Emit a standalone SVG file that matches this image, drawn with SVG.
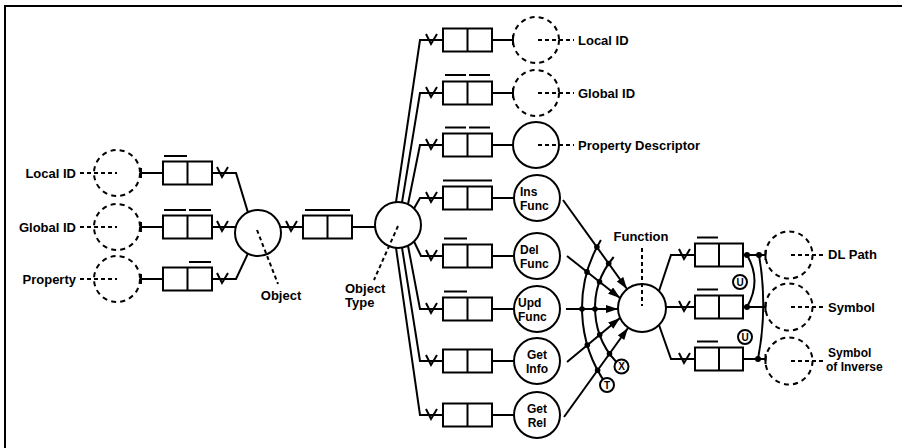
<svg xmlns="http://www.w3.org/2000/svg" xmlns:xlink="http://www.w3.org/1999/xlink" width="902" height="448" viewBox="0 0 902 448">
<style>
.ln{stroke:#000;stroke-width:2;fill:none}
.ds{stroke:#000;stroke-width:2;fill:none;stroke-dasharray:4 3}
.dc{stroke:#000;stroke-width:2;fill:none;stroke-dasharray:5 4.2}
.sc{stroke:#000;stroke-width:2;fill:#fff}
.box{stroke:#000;stroke-width:2;fill:#fff}
.bar{stroke:#000;stroke-width:2}
.t{font-family:"Liberation Sans",Arial,sans-serif;font-weight:bold;font-size:13px;fill:#000}
.c{font-family:"Liberation Sans",Arial,sans-serif;font-weight:bold;font-size:12px;fill:#000}
.s{font-family:"Liberation Sans",Arial,sans-serif;font-weight:bold;font-size:10px;fill:#000;text-anchor:middle}
.dot{fill:#000}
</style>
<defs>
<path id="vee" d="M -5 -6 L 0 4 L 6 -6" fill="none" stroke="#000" stroke-width="2"/>
<marker id="arr" markerUnits="userSpaceOnUse" markerWidth="14" markerHeight="10" refX="12" refY="4" orient="auto">
<path d="M0,0 L12,4 L0,8 z" fill="#000"/>
</marker>
</defs>
<rect width="902" height="448" fill="#fff"/>
<g id="frame">
<line class="ln" x1="4" y1="6" x2="902" y2="6"/>
<line class="ln" x1="5" y1="5" x2="5" y2="448"/>
</g>

<g id="connectors">
<line class="ln" x1="140" y1="173" x2="163" y2="173"/><line class="ln" x1="141" y1="168" x2="141" y2="178"/>
<line class="ln" x1="140" y1="227" x2="163" y2="227"/><line class="ln" x1="141" y1="222" x2="141" y2="232"/>
<line class="ln" x1="140" y1="279" x2="163" y2="279"/><line class="ln" x1="141" y1="274" x2="141" y2="284"/>
<path class="ln" d="M212 173 L236 173 L248 212.6"/><use xlink:href="#vee" x="222" y="173"/>
<path class="ln" d="M212 227 L236 227"/><use xlink:href="#vee" x="222" y="227"/>
<path class="ln" d="M212 279 L236 279 L248 253.4"/><use xlink:href="#vee" x="222" y="279"/>
<line class="ln" x1="280" y1="227" x2="303" y2="227"/><use xlink:href="#vee" x="291" y="227"/>
<line class="ln" x1="352" y1="227" x2="375.5" y2="227"/>
<path class="ln" d="M396 202.1 L420 40 L443 40"/><use xlink:href="#vee" x="431" y="40"/>
<path class="ln" d="M402 202.4 L420 93 L443 93"/><use xlink:href="#vee" x="431" y="93"/>
<path class="ln" d="M408 204.3 L420 145 L443 145"/><use xlink:href="#vee" x="431" y="145"/>
<path class="ln" d="M414 208.5 L420 198 L443 198"/><use xlink:href="#vee" x="431" y="198"/>
<path class="ln" d="M414 241.5 L421 256 L443 256"/><use xlink:href="#vee" x="431" y="256"/>
<path class="ln" d="M408 245.7 L420 309 L443 309"/><use xlink:href="#vee" x="431" y="309"/>
<path class="ln" d="M402 247.6 L420 361 L443 361"/><use xlink:href="#vee" x="431" y="361"/>
<path class="ln" d="M396 247.9 L420 415 L443 415"/><use xlink:href="#vee" x="431" y="415"/>
<line class="ln" x1="492" y1="40" x2="513" y2="40"/><line class="ln" x1="513" y1="35" x2="513" y2="45"/>
<line class="ln" x1="492" y1="93" x2="513" y2="93"/><line class="ln" x1="513" y1="88" x2="513" y2="98"/>
<line class="ln" x1="492" y1="145" x2="513" y2="145"/>
<line class="ln" x1="492" y1="198" x2="514" y2="198"/>
<line class="ln" x1="492" y1="256" x2="514" y2="256"/>
<line class="ln" x1="492" y1="309" x2="514" y2="309"/>
<line class="ln" x1="492" y1="361" x2="514" y2="361"/>
<line class="ln" x1="492" y1="415" x2="514" y2="415"/>
<path class="ln" d="M600.9 240 A132 132 0 0 0 606.8 385"/>
<path class="ln" d="M613.7 257 A79 79 0 0 0 621.3 366.8"/>
<line class="ln" x1="563" y1="200" x2="627" y2="289" marker-end="url(#arr)"/>
<line class="ln" x1="567" y1="256" x2="620" y2="298" marker-end="url(#arr)"/>
<line class="ln" x1="566" y1="309" x2="618" y2="309" marker-end="url(#arr)"/>
<line class="ln" x1="567" y1="362" x2="620" y2="318" marker-end="url(#arr)"/>
<line class="ln" x1="564" y1="417" x2="628" y2="328" marker-end="url(#arr)"/>
<g class="dot">
<circle cx="596.9" cy="247.1" r="2.8"/><circle cx="587" cy="271.9" r="2.8"/><circle cx="582" cy="309" r="2.8"/><circle cx="587.3" cy="345.1" r="2.8"/><circle cx="597.6" cy="370.3" r="2.8"/>
<circle cx="608.7" cy="263.5" r="2.8"/><circle cx="599.5" cy="281.7" r="2.8"/><circle cx="595" cy="309" r="2.8"/><circle cx="599.7" cy="334.8" r="2.8"/><circle cx="609.5" cy="353.7" r="2.8"/>
</g>
<circle class="sc" cx="621.5" cy="366.5" r="7"/><text class="s" x="621.5" y="370">X</text>
<circle class="sc" cx="607" cy="385" r="7"/><text class="s" x="607" y="388.5">T</text>
<path class="ln" d="M659 291 L671 255 L695 255"/><use xlink:href="#vee" x="684" y="255"/>
<path class="ln" d="M666 307 L695 307"/><use xlink:href="#vee" x="684" y="307"/>
<path class="ln" d="M659 325 L671 359 L695 359"/><use xlink:href="#vee" x="684" y="359"/>
<line class="ln" x1="743" y1="255" x2="765.5" y2="255"/><line class="ln" x1="765.5" y1="250" x2="765.5" y2="260"/>
<line class="ln" x1="743" y1="307" x2="765.5" y2="307"/><line class="ln" x1="765.5" y1="302" x2="765.5" y2="312"/>
<line class="ln" x1="743" y1="359" x2="765.5" y2="359"/><line class="ln" x1="765.5" y1="354" x2="765.5" y2="364"/>
<path class="ln" d="M747 255 Q762 281 747 307"/>
<path class="ln" d="M759 255 Q768 307 758 359"/>
<g class="dot"><circle cx="747" cy="255" r="3"/><circle cx="759" cy="255" r="3"/><circle cx="747" cy="307" r="3"/><circle cx="758" cy="359" r="3"/></g>
<circle class="sc" cx="740" cy="282" r="7"/><text class="s" x="740" y="285.5">U</text>
<circle class="sc" cx="745" cy="337" r="7"/><text class="s" x="745" y="340.5">U</text>
</g>

<g id="left-local-id"><text class="t" x="76" y="178" text-anchor="end">Local ID</text><line class="ds" x1="80" y1="173" x2="117" y2="173"/><circle class="dc" cx="117" cy="173" r="23"/></g>
<g id="left-global-id"><text class="t" x="76" y="232" text-anchor="end">Global ID</text><line class="ds" x1="80" y1="227" x2="117" y2="227"/><circle class="dc" cx="117" cy="227" r="23"/></g>
<g id="left-property"><text class="t" x="76" y="284" text-anchor="end">Property</text><line class="ds" x1="80" y1="279" x2="117" y2="279"/><circle class="dc" cx="117" cy="279" r="23"/></g>

<g id="box-left-1"><rect class="box" x="163" y="161.5" width="49" height="23"/><line class="ln" x1="187.5" y1="161.5" x2="187.5" y2="184.5"/><line class="bar" x1="164" y1="156" x2="187" y2="156"/></g>
<g id="box-left-2"><rect class="box" x="163" y="215.5" width="49" height="23"/><line class="ln" x1="187.5" y1="215.5" x2="187.5" y2="238.5"/><line class="bar" x1="164" y1="210" x2="186" y2="210"/><line class="bar" x1="189" y1="210" x2="211" y2="210"/></g>
<g id="box-left-3"><rect class="box" x="163" y="267.5" width="49" height="23"/><line class="ln" x1="187.5" y1="267.5" x2="187.5" y2="290.5"/><line class="bar" x1="189" y1="262" x2="211" y2="262"/></g>

<g id="object"><circle class="ln" cx="258" cy="233" r="23"/><line class="ds" x1="257" y1="230" x2="278" y2="284"/><text class="t" x="281" y="300" text-anchor="middle">Object</text></g>

<g id="box-object"><rect class="box" x="303" y="215.5" width="49" height="23"/><line class="ln" x1="327.5" y1="215.5" x2="327.5" y2="238.5"/><line class="bar" x1="305" y1="210" x2="350" y2="210"/></g>

<g id="object-type"><circle class="ln" cx="398" cy="225" r="23"/><line class="ds" x1="398" y1="226" x2="374" y2="280"/><text class="t" x="345" y="293">Object</text><text class="t" x="345" y="307">Type</text></g>

<g id="box-ot-1"><rect class="box" x="443" y="28.5" width="49" height="23"/><line class="ln" x1="467.5" y1="28.5" x2="467.5" y2="51.5"/></g>
<g id="box-ot-2"><rect class="box" x="443" y="81.5" width="49" height="23"/><line class="ln" x1="467.5" y1="81.5" x2="467.5" y2="104.5"/><line class="bar" x1="445" y1="75" x2="466" y2="75"/><line class="bar" x1="469" y1="75" x2="490" y2="75"/></g>
<g id="box-ot-3"><rect class="box" x="443" y="133.5" width="49" height="23"/><line class="ln" x1="467.5" y1="133.5" x2="467.5" y2="156.5"/><line class="bar" x1="445" y1="127.5" x2="466" y2="127.5"/><line class="bar" x1="469" y1="127.5" x2="490" y2="127.5"/></g>
<g id="box-ot-4"><rect class="box" x="443" y="186.5" width="49" height="23"/><line class="ln" x1="467.5" y1="186.5" x2="467.5" y2="209.5"/><line class="bar" x1="443" y1="180.5" x2="492" y2="180.5"/></g>
<g id="box-ot-5"><rect class="box" x="443" y="244.5" width="49" height="23"/><line class="ln" x1="467.5" y1="244.5" x2="467.5" y2="267.5"/><line class="bar" x1="444" y1="238.5" x2="467" y2="238.5"/></g>
<g id="box-ot-6"><rect class="box" x="443" y="297.5" width="49" height="23"/><line class="ln" x1="467.5" y1="297.5" x2="467.5" y2="320.5"/><line class="bar" x1="444" y1="291.5" x2="467" y2="291.5"/></g>
<g id="box-ot-7"><rect class="box" x="443" y="349.5" width="49" height="23"/><line class="ln" x1="467.5" y1="349.5" x2="467.5" y2="372.5"/></g>
<g id="box-ot-8"><rect class="box" x="443" y="403.5" width="49" height="23"/><line class="ln" x1="467.5" y1="403.5" x2="467.5" y2="426.5"/></g>

<g id="ot-local-id"><circle class="dc" cx="536" cy="40" r="23"/><line class="ds" x1="538" y1="40" x2="574" y2="40"/><text class="t" x="578" y="45">Local ID</text></g>
<g id="ot-global-id"><circle class="dc" cx="536" cy="93" r="23"/><line class="ds" x1="538" y1="93" x2="574" y2="93"/><text class="t" x="578" y="98">Global ID</text></g>
<g id="property-descriptor"><circle class="ln" cx="536" cy="145" r="23"/><line class="ds" x1="538" y1="145" x2="574" y2="145"/><text class="t" x="578" y="150">Property Descriptor</text></g>
<g id="ins-func"><circle class="sc" cx="537" cy="198" r="23"/><text class="c" x="520" y="196">Ins</text><text class="c" x="520" y="209.5">Func</text></g>
<g id="del-func"><circle class="sc" cx="537" cy="256" r="23"/><text class="c" x="520" y="254">Del</text><text class="c" x="520" y="267.5">Func</text></g>
<g id="upd-func"><circle class="sc" cx="537" cy="309" r="23"/><text class="c" x="518" y="307">Upd</text><text class="c" x="518" y="320.5">Func</text></g>
<g id="get-info"><circle class="sc" cx="537" cy="361" r="23"/><text class="c" x="537" y="359" text-anchor="middle">Get</text><text class="c" x="537" y="372.5" text-anchor="middle">Info</text></g>
<g id="get-rel"><circle class="sc" cx="537" cy="415" r="23"/><text class="c" x="537" y="413" text-anchor="middle">Get</text><text class="c" x="537" y="426.5" text-anchor="middle">Rel</text></g>

<g id="function"><circle class="sc" cx="642" cy="308" r="24"/><line class="ds" x1="642" y1="248" x2="642" y2="306"/><text class="t" x="641" y="241" text-anchor="middle">Function</text></g>

<g id="box-f-1"><rect class="box" x="695" y="243.5" width="48" height="23"/><line class="ln" x1="719" y1="243.5" x2="719" y2="266.5"/><line class="bar" x1="697" y1="237.5" x2="718" y2="237.5"/></g>
<g id="box-f-2"><rect class="box" x="695" y="295.5" width="48" height="23"/><line class="ln" x1="719" y1="295.5" x2="719" y2="318.5"/><line class="bar" x1="697" y1="289.5" x2="718" y2="289.5"/></g>
<g id="box-f-3"><rect class="box" x="695" y="347.5" width="48" height="23"/><line class="ln" x1="719" y1="347.5" x2="719" y2="370.5"/><line class="bar" x1="697" y1="341.5" x2="718" y2="341.5"/></g>

<g id="dl-path"><circle class="dc" cx="789" cy="255" r="23.5"/><line class="ds" x1="791" y1="255" x2="823" y2="255"/><text class="t" x="828" y="259">DL Path</text></g>
<g id="symbol"><circle class="dc" cx="789" cy="307" r="23.5"/><line class="ds" x1="791" y1="307" x2="823" y2="307"/><text class="t" x="828" y="312">Symbol</text></g>
<g id="symbol-inverse"><circle class="dc" cx="789" cy="361" r="23.5"/><line class="ds" x1="791" y1="361" x2="823" y2="361"/><text class="c" x="828" y="357">Symbol</text><text class="c" x="826" y="371">of Inverse</text></g>
</svg>
